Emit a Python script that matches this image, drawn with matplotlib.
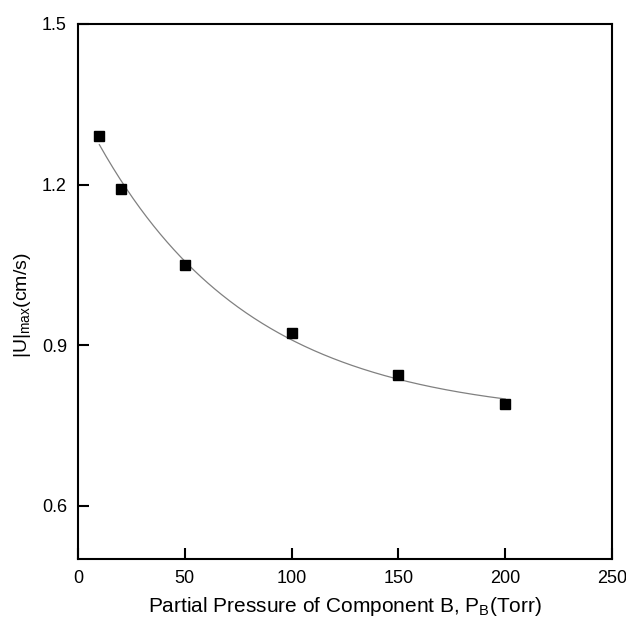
import numpy as np
import matplotlib
matplotlib.use('Agg')
import matplotlib.pyplot as plt

plt.rcParams['font.family'] = ['Liberation Sans', 'DejaVu Sans']
plt.rcParams['mathtext.fontset'] = 'custom'
plt.rcParams['mathtext.rm'] = 'Liberation Sans'
plt.rcParams['mathtext.it'] = 'Liberation Sans'

# measured points
pressure = [10, 20, 50, 100, 150, 200]
u_max = [1.290, 1.191, 1.049, 0.922, 0.843, 0.789]

x_ticks = [0, 50, 100, 150, 200, 250]
y_ticks = [0.6, 0.9, 1.2, 1.5]

# exponential decay fit y = y0 + A*exp(-x/t), least squares over a grid of t
px = np.array(pressure, dtype=float)
py = np.array(u_max)
best = None
for t in np.linspace(10, 400, 2000):
    M = np.column_stack([np.ones_like(px), np.exp(-px / t)])
    coef, res, _, _ = np.linalg.lstsq(M, py, rcond=None)
    err = np.sum((M @ coef - py) ** 2)
    if best is None or err < best[0]:
        best = (err, t, coef)
_, t_fit, (y0, a_fit) = best
xf = np.linspace(min(pressure), max(pressure), 300)
yf = y0 + a_fit * np.exp(-xf / t_fit)

fig = plt.figure(figsize=(6.26, 6.22), dpi=100)
ax = fig.add_axes([78 / 626, 1 - 559 / 622, 534 / 626, 535 / 622])

ax.plot(xf, yf, color='#808080', lw=0.9)
ax.plot(pressure, u_max, 's', color='black', markersize=7)

ax.set_xlim(0, 250)
ax.set_ylim(0.5, 1.5)
ax.set_xticks(x_ticks)
ax.set_yticks(y_ticks)
ax.set_yticklabels(['0.6', '0.9', '1.2', '1.5'])
ax.tick_params(direction='in', length=8, width=1.5, labelsize=13, top=False, right=False, pad=8)
for s in ax.spines.values():
    s.set_linewidth(1.5)

ax.set_xlabel(r'Partial Pressure of Component B, P$_{\mathregular{B}}$(Torr)', fontsize=15, labelpad=6)
ax.set_ylabel(r'|U|$_{\mathregular{max}}$(cm/s)', fontsize=14)
ax.yaxis.set_label_coords(-0.085, 0.475)

fig.savefig('out.png', dpi=100)
